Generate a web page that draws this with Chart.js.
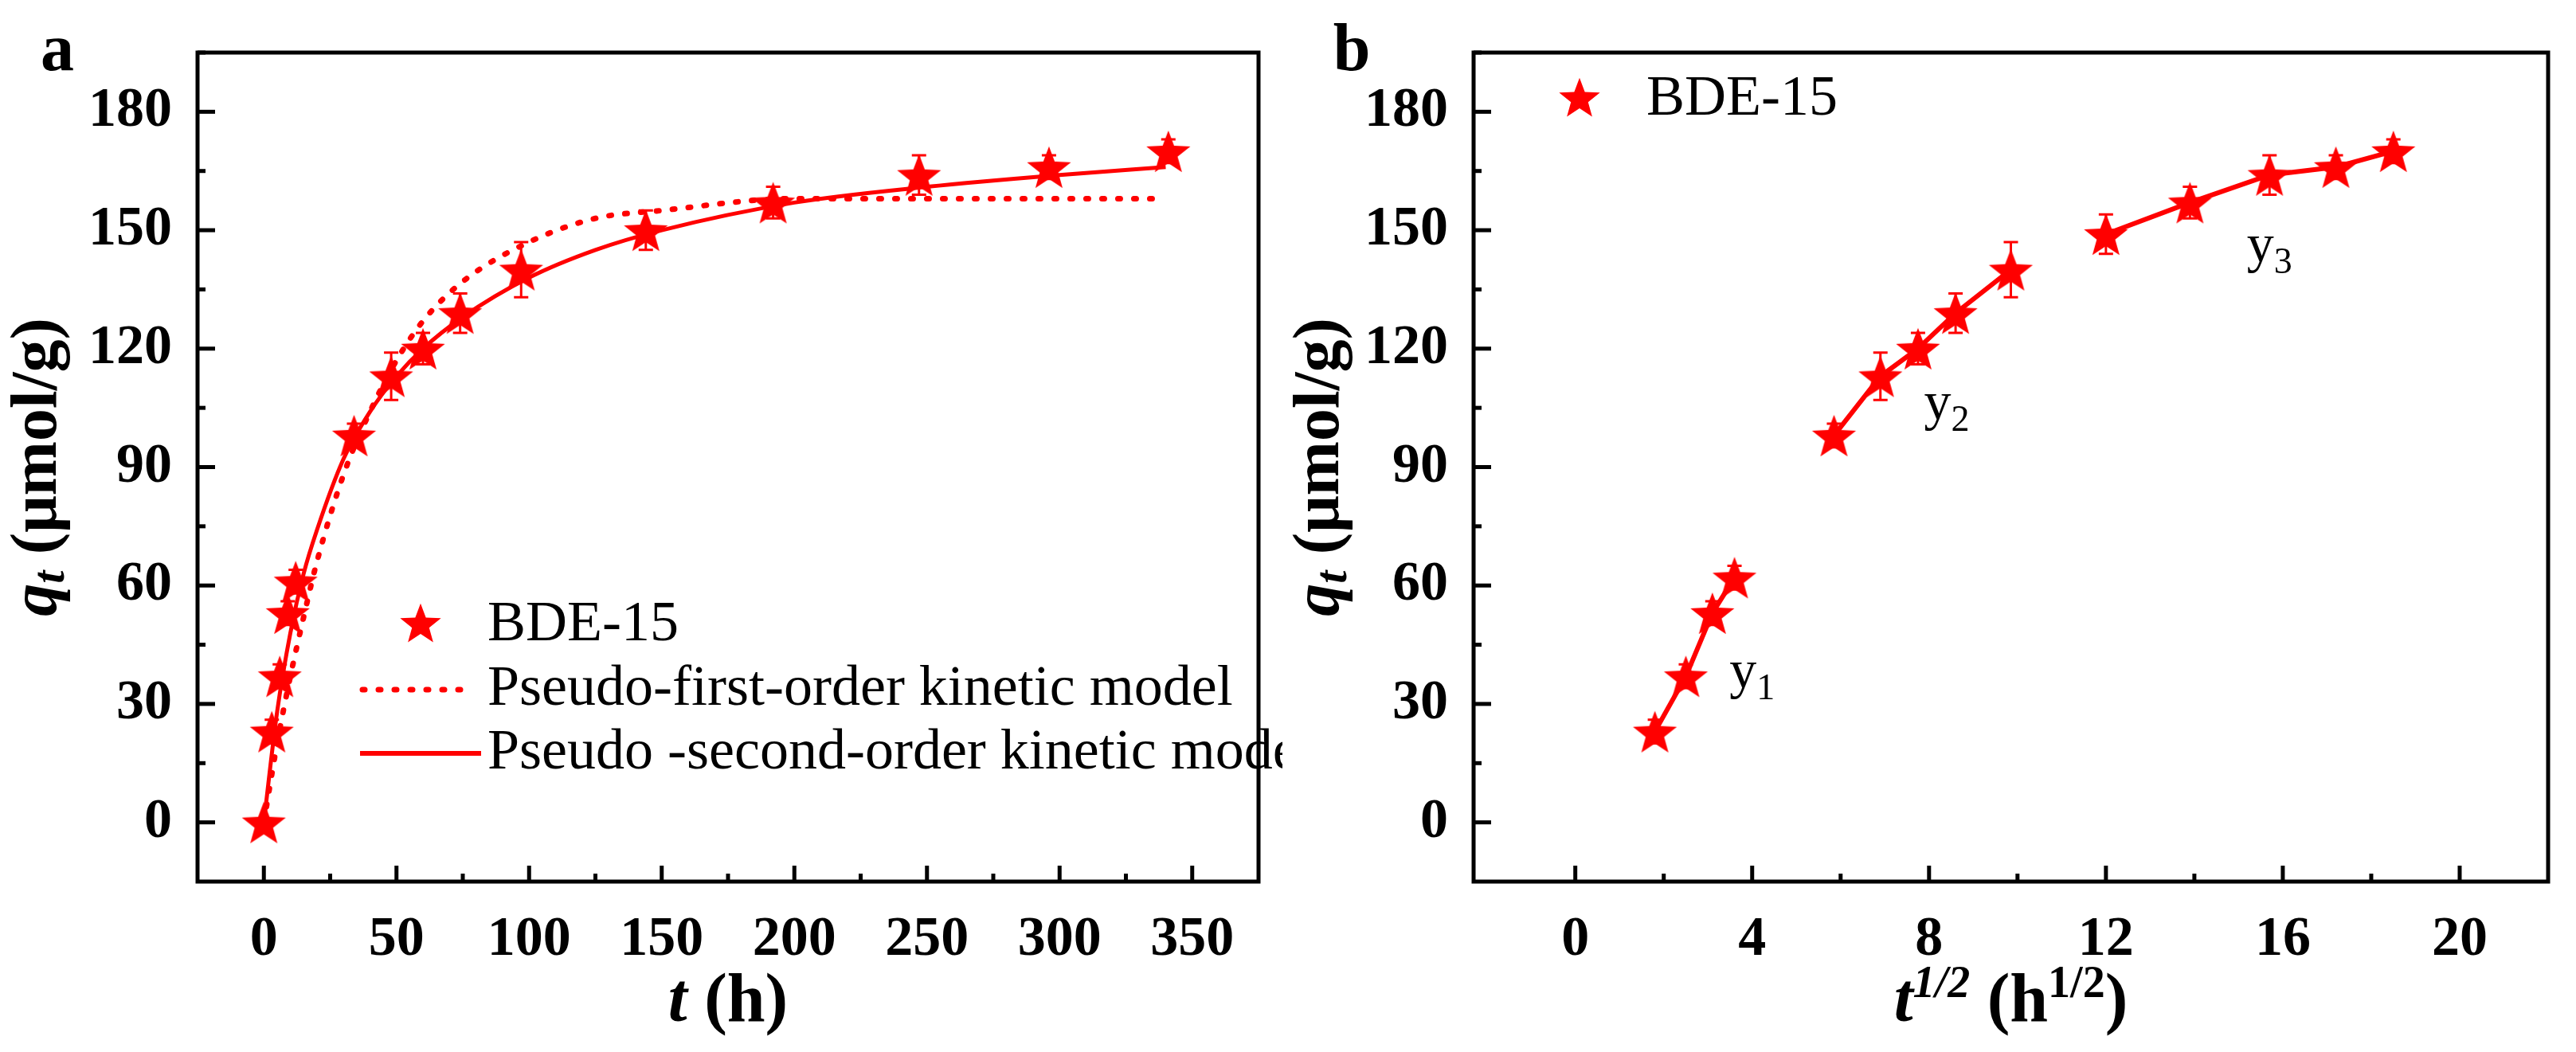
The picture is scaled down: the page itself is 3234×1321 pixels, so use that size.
<!DOCTYPE html>
<html><head><meta charset="utf-8">
<script src="https://cdn.jsdelivr.net/npm/chart.js@4/dist/chart.umd.min.js"></script>
<style>html,body{margin:0;padding:0;background:#fff;width:3234px;height:1321px;overflow:hidden}
.p{position:absolute;top:0;height:1321px}</style></head>
<body>
<div class="p" style="left:0;width:1610px"><canvas id="ca"></canvas></div>
<div class="p" style="left:1610px;width:1624px"><canvas id="cb"></canvas></div>
<script>
// ---- data ----
const tHours   = [0, 3, 6, 9, 12, 34, 48, 60, 74, 97, 144, 192, 247, 296, 341];
const qData    = [0, 23, 37, 53, 61, 98, 113, 120, 129, 140, 150, 157, 164, 166, 170];
const qErr     = [0, 3, 3, 3, 3, 3, 6, 4, 5, 7, 5, 4, 5, 3, 3];
const fitT     = [0, 5, 10, 15, 20, 30, 40, 50, 60, 75, 100, 125, 150, 200, 250, 300, 340];
const pfoQ     = [0, 20, 37, 52, 66, 88, 104, 117, 127, 137, 147, 153, 155, 158, 158, 158, 158];
const psoQ     = [0, 28, 48, 63, 74, 92, 104, 113, 120, 128, 138, 145, 150, 157, 161, 164, 166];
const sqrtT1 = [1.8, 2.5, 3.1, 3.6];         const q1 = [23, 37, 53, 62];  const e1 = [3,3,3,3];
const sqrtT2 = [5.85, 6.9, 7.75, 8.6, 9.85];  const q2 = [98, 113, 120, 129, 140]; const e2 = [3,6,4,5,7];
const sqrtT3 = [12.0, 13.9, 15.7, 17.2, 18.5]; const q3 = [149, 157, 164, 166, 170]; const e3 = [5,4,5,3,3];
const yTicks = [0, 30, 60, 90, 120, 150, 180];
const xTicksA = [0, 50, 100, 150, 200, 250, 300, 350];
const xTicksB = [0, 4, 8, 12, 16, 20];

const RED = '#ff0000';
const SERIF = '"Liberation Serif","Times New Roman",serif';
function makeStar(size){
  const c=document.createElement('canvas');c.width=size;c.height=size;
  const g=c.getContext('2d');g.fillStyle=RED;g.beginPath();
  const cx=size/2,cy=size/2+size*0.05,R=size/2,r=R*0.42;
  for(let i=0;i<10;i++){const a=-Math.PI/2+i*Math.PI/5;const rr=i%2?r:R;
    g.lineTo(cx+rr*Math.cos(a),cy+rr*Math.sin(a));}
  g.closePath();g.fill();return c;
}
const star = makeStar(58);
const lstar = makeStar(54);
const pts=(xs,ys)=>xs.map((x,i)=>({x,y:ys[i]}));

function drawRuns(ctx,runs,x,y,align){
  let w=0;runs.forEach(r=>{ctx.font=r.f;w+=ctx.measureText(r.t).width;});
  let cx = align==='center'? x-w/2 : x;
  ctx.textBaseline='alphabetic';ctx.textAlign='left';
  runs.forEach(r=>{ctx.font=r.f;ctx.fillText(r.t,cx,y+(r.dy||0));cx+=ctx.measureText(r.t).width;});
}

function framePlugin(opts){
  return {id:'frame'+opts.id,
   afterDatasetsDraw(chart){
    const {ctx,scales}=chart;const sx=scales.x,sy=scales.y;
    ctx.save();
    (opts.err||[]).forEach(([xs,ys,es])=>{
      ctx.strokeStyle=RED;ctx.lineWidth=3;
      xs.forEach((x,i)=>{if(!es[i])return;const px=sx.getPixelForValue(x);
        const p1=sy.getPixelForValue(ys[i]+es[i]),p2=sy.getPixelForValue(ys[i]-es[i]);
        ctx.beginPath();ctx.moveTo(px,p1);ctx.lineTo(px,p2);
        ctx.moveTo(px-9,p1);ctx.lineTo(px+9,p1);ctx.moveTo(px-9,p2);ctx.lineTo(px+9,p2);ctx.stroke();});
    });
    ctx.restore();
   },
   afterDraw(chart){
    const {ctx,chartArea:a,scales}=chart;const sx=scales.x,sy=scales.y;
    ctx.save();ctx.strokeStyle='#000';ctx.lineWidth=5;ctx.lineCap='butt';
    ctx.strokeRect(a.left,a.top,a.right-a.left,a.bottom-a.top);
    const xt=opts.xt,yt=opts.yt;
    xt.forEach((v,i)=>{const p=sx.getPixelForValue(v);ctx.beginPath();ctx.moveTo(p,a.bottom);ctx.lineTo(p,a.bottom-20);ctx.stroke();
      if(i<xt.length-1){const m=sx.getPixelForValue((v+xt[i+1])/2);ctx.beginPath();ctx.moveTo(m,a.bottom);ctx.lineTo(m,a.bottom-10);ctx.stroke();}});
    {const m=sx.getPixelForValue(xt[xt.length-1]+(xt[1]-xt[0])/2);if(m<a.right-5){ctx.beginPath();ctx.moveTo(m,a.bottom);ctx.lineTo(m,a.bottom-10);ctx.stroke();}}
    yt.forEach((v,i)=>{const p=sy.getPixelForValue(v);ctx.beginPath();ctx.moveTo(a.left,p);ctx.lineTo(a.left+22,p);ctx.stroke();
      if(i<yt.length-1){const m=sy.getPixelForValue((v+yt[i+1])/2);ctx.beginPath();ctx.moveTo(a.left,m);ctx.lineTo(a.left+10,m);ctx.stroke();}});
    {const m=sy.getPixelForValue(yt[yt.length-1]+15);ctx.beginPath();ctx.moveTo(a.left,m);ctx.lineTo(a.left+10,m);ctx.stroke();}
    ctx.fillStyle='#000';ctx.font='bold 84px '+SERIF;ctx.textAlign='center';ctx.textBaseline='alphabetic';
    ctx.fillText(opts.label,opts.labelX,88);
    drawRuns(ctx,opts.xTitle,(a.left+a.right)/2,1282,'center');
    ctx.save();ctx.translate(opts.yTitleX,(a.top+a.bottom)/2);ctx.rotate(-Math.PI/2);
    drawRuns(ctx,[{t:'q',f:'bold italic 82px '+SERIF},{t:'t',f:'bold italic 58px '+SERIF,dy:10},{t:' (μmol/g)',f:'bold 82px '+SERIF}],0,0,'center');
    ctx.restore();
    opts.extra&&opts.extra(ctx,chart);
    ctx.restore();
   }};
}

function baseOpts(xmin,xmax,xt,yw,rightPad){
  const tickFont={family:SERIF,size:70,weight:'bold'};
  return {responsive:true,maintainAspectRatio:false,animation:false,devicePixelRatio:1,
    layout:{padding:{left:0,right:rightPad,top:40,bottom:0}},
    plugins:{legend:{display:false},tooltip:{enabled:false}},
    scales:{
      x:{type:'linear',min:xmin,max:xmax,afterBuildTicks:s=>{s.ticks=xt.map(v=>({value:v}));},
         afterFit:s=>{s.height=214;},grid:{display:false},border:{display:false},
         ticks:{font:tickFont,color:'#000',padding:24,maxRotation:0}},
      y:{type:'linear',min:-15,max:195,afterBuildTicks:s=>{s.ticks=yTicks.map(v=>({value:v}));},
         afterFit:s=>{s.width=yw;},grid:{display:false},border:{display:false},
         ticks:{font:tickFont,color:'#000',padding:24}}
    }};
}

new Chart(document.getElementById('ca'),{
  type:'scatter',
  data:{datasets:[
    {data:pts(fitT,pfoQ),showLine:true,pointRadius:0,borderColor:RED,borderWidth:7,borderDash:[3,17],borderCapStyle:'round',cubicInterpolationMode:'monotone'},
    {data:pts(fitT,psoQ),showLine:true,pointRadius:0,borderColor:RED,borderWidth:5,cubicInterpolationMode:'monotone'},
    {data:pts(tHours,qData),pointStyle:star,pointRadius:29,showLine:false}
  ]},
  options:baseOpts(-25,375,xTicksA,248,30),
  plugins:[framePlugin({id:'a',label:'a',labelX:72,yTitleX:70,xt:xTicksA,yt:yTicks,
    err:[[tHours,qData,qErr]],
    xTitle:[{t:'t',f:'bold italic 86px '+SERIF},{t:' (h)',f:'bold 86px '+SERIF}],
    extra:(ctx)=>{
      ctx.drawImage(lstar,528-27,785-30);
      ctx.fillStyle='#000';ctx.font='72px '+SERIF;ctx.textAlign='left';ctx.textBaseline='middle';
      ctx.fillText('BDE-15',612,785);ctx.fillText('Pseudo-first-order kinetic model',612,866);
      ctx.fillText('Pseudo -second-order kinetic model',612,946);
      ctx.strokeStyle=RED;ctx.lineWidth=7;ctx.setLineDash([3,17]);ctx.lineCap='round';
      ctx.beginPath();ctx.moveTo(455,866);ctx.lineTo(592,866);ctx.stroke();
      ctx.setLineDash([]);ctx.lineCap='butt';ctx.lineWidth=6;
      ctx.beginPath();ctx.moveTo(452,946);ctx.lineTo(604,946);ctx.stroke();
    }})]
});

const segDs=(xs,ys)=>({data:pts(xs,ys),showLine:true,borderColor:RED,borderWidth:6,pointStyle:star,pointRadius:29});
new Chart(document.getElementById('cb'),{
  type:'scatter',
  data:{datasets:[segDs(sqrtT1,q1),segDs(sqrtT2,q2),segDs(sqrtT3,q3)]},
  options:baseOpts(-2.3,22,xTicksB,240,31),
  plugins:[framePlugin({id:'b',label:'b',labelX:87,yTitleX:70,xt:xTicksB,yt:yTicks,
    err:[[sqrtT1,q1,e1],[sqrtT2,q2,e2],[sqrtT3,q3,e3]],
    xTitle:[{t:'t',f:'bold italic 86px '+SERIF},{t:'1/2',f:'bold italic 56px '+SERIF,dy:-30},
            {t:' (h',f:'bold 86px '+SERIF},{t:'1/2',f:'bold 56px '+SERIF,dy:-30},{t:')',f:'bold 86px '+SERIF}],
    extra:(ctx,chart)=>{
      const sx=chart.scales.x,sy=chart.scales.y;
      ctx.drawImage(lstar,1983-1610-27,125-30);
      ctx.fillStyle='#000';ctx.font='72px '+SERIF;ctx.textAlign='left';ctx.textBaseline='middle';
      ctx.fillText('BDE-15',2067-1610,125);
      const lab=(x,y,n)=>{const px=sx.getPixelForValue(x),py=sy.getPixelForValue(y);
        drawRuns(ctx,[{t:'y',f:'68px '+SERIF},{t:n,f:'46px '+SERIF,dy:14}],px,py+20,'center');};
      lab(4.0,38,'1');lab(8.4,106,'2');lab(15.7,146,'3');
    }})]
});
</script></body></html>
